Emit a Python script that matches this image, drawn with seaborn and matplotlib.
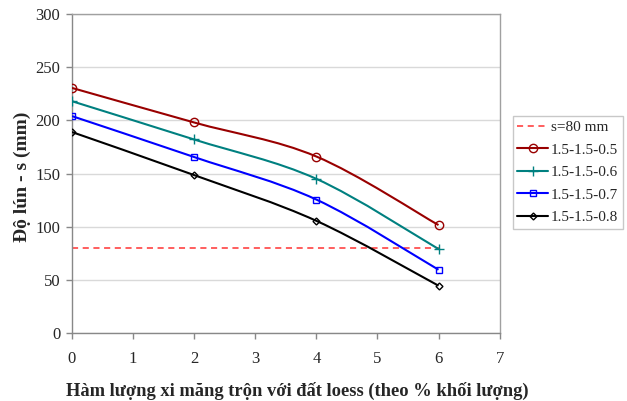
import numpy as np
import pandas as pd
import matplotlib.pyplot as plt
import seaborn as sns
from matplotlib.path import Path
from matplotlib.patches import PathPatch
from matplotlib.lines import Line2D

sns.set_theme(style="whitegrid")
plt.rcParams['font.family'] = ['Liberation Serif', 'DejaVu Serif']

# data
cement = [0, 2, 4, 6]
names = ["1.5-1.5-0.5", "1.5-1.5-0.6", "1.5-1.5-0.7", "1.5-1.5-0.8"]
s_05 = [230.5, 198, 166, 101.5]
s_06 = [218, 182, 145, 79]
s_07 = [204, 165.5, 125.5, 59.5]
s_08 = [189, 148.5, 105.5, 44.5]
limit_x = [0, 6]
limit_s = [80, 80]

colors = ["#990000", "#008080", "#0000FF", "#000000"]
markers = ["o", "+", "s", "D"]
msizes = [6, 7, 5, 3.5]

df = pd.DataFrame({"x": cement * 4,
                   "s": s_05 + s_06 + s_07 + s_08,
                   "series": [n for n in names for _ in cement]})


def smooth_path(xs, ys):
    # Excel-like smoothed line drawn as cubic bezier segments
    pts = np.column_stack([xs, ys]).astype(float)
    ext = np.vstack([pts[0], pts, pts[-1]])
    verts = [pts[0]]
    codes = [Path.MOVETO]
    for i in range(1, len(ext) - 2):
        p0, p1, p2, p3 = ext[i - 1], ext[i], ext[i + 1], ext[i + 2]
        verts += [p1 + (p2 - p0) / 6, p2 - (p3 - p1) / 6, p2]
        codes += [Path.CURVE4] * 3
    return Path(verts, codes)


fig = plt.figure(figsize=(6.27, 4.01), dpi=100)
ax = fig.add_axes([0.1148, 0.1696, 0.682, 0.7954])

sns.lineplot(x=limit_x, y=limit_s, ax=ax, color="#FF3333", linestyle=(0, (4, 3)),
             linewidth=1.1)

for name, c, m, ms in zip(names, colors, markers, msizes):
    sub = df[df["series"] == name]
    ax.add_patch(PathPatch(smooth_path(sub["x"], sub["s"]), facecolor="none",
                           edgecolor=c, linewidth=1.5, zorder=3))
    sns.lineplot(data=sub, x="x", y="s", ax=ax, linestyle="none", marker=m,
                 markersize=ms, markerfacecolor="none", markeredgecolor=c,
                 markeredgewidth=1.0, color=c, zorder=5)

ax.set_xlim(0, 7)
ax.set_ylim(0, 300)
ax.set_xticks(range(0, 8))
ax.set_yticks(range(0, 301, 50))
ax.grid(axis="x", visible=False)
ax.grid(axis="y", color="#D9D9D9", linewidth=1)
for sp in ax.spines.values():
    sp.set_color("#A0A0A0")
    sp.set_linewidth(1)
ax.spines["left"].set_color("#888888")
ax.spines["bottom"].set_color("#888888")
ax.tick_params(axis="both", direction="out", length=4, width=1, color="#888888",
               labelsize=12, pad=4.5, left=True, bottom=True)
ax.tick_params(axis="x", pad=9)

ax.set_xlabel("Hàm lượng xi măng trộn với đất loess (theo % khối lượng)",
              fontsize=13.3, fontweight="bold")
ax.set_ylabel("Độ lún - s (mm)", fontsize=14, fontweight="bold")
ax.xaxis.set_label_coords(0.528, -0.155)
ax.yaxis.set_label_coords(-0.095, 0.49)

handles = [Line2D([], [], color="#FF3333", linestyle=(0, (4, 3)), linewidth=1.1)]
for c, m, ms in zip(colors, markers, msizes):
    handles.append(Line2D([], [], color=c, linewidth=1.5, marker=m, markersize=ms,
                          markerfacecolor="none", markeredgecolor=c, markeredgewidth=1.0))
leg = fig.legend(handles, ["s=80 mm"] + names, loc="upper left",
                 bbox_to_anchor=(0.818, 0.711), fontsize=11, frameon=True,
                 fancybox=False, edgecolor="#BBBBBB", handlelength=2.0,
                 handletextpad=0.2, borderpad=0.3, labelspacing=0.58,
                 borderaxespad=0)
leg.get_frame().set_linewidth(1)

plt.savefig("out.png", dpi=100)
